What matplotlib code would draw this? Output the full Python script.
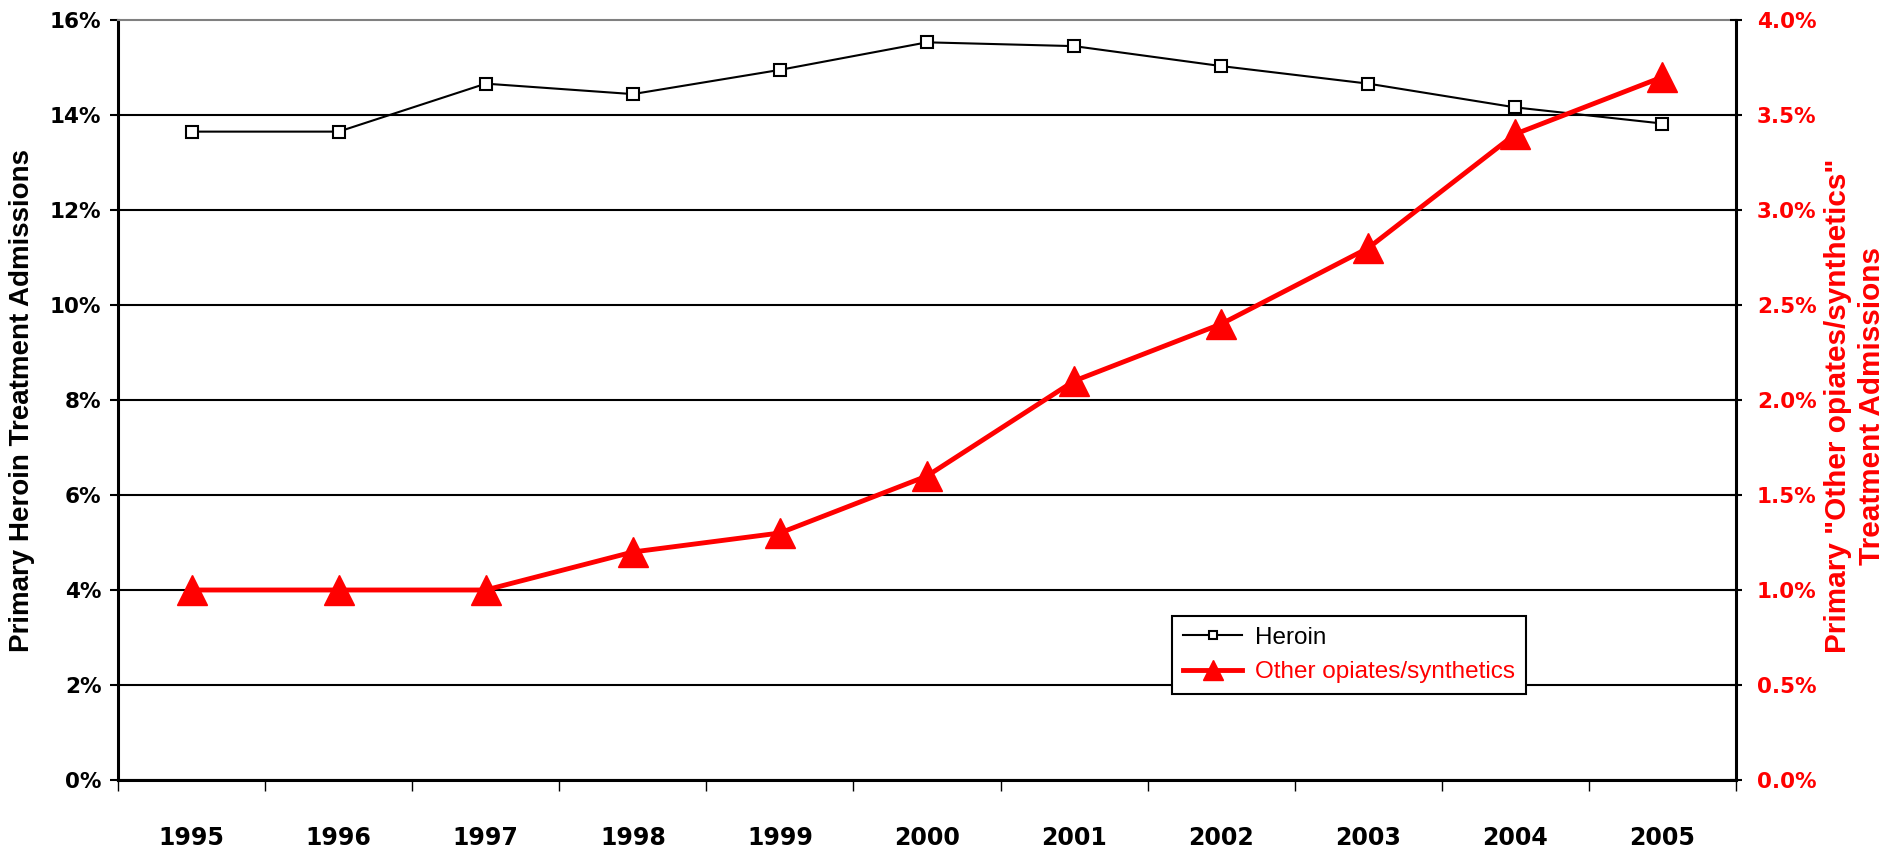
import numpy as np
import matplotlib
matplotlib.use('Agg')
import matplotlib.pyplot as plt
from matplotlib.ticker import FuncFormatter

## Data ####################################################################

years = ['1995', '1996', '1997', '1998', '1999', '2000',
         '2001', '2002', '2003', '2004', '2005']
heroin = [13.65, 13.65, 14.66, 14.44, 14.95, 15.53,
          15.45, 15.03, 14.66, 14.16, 13.82]
other_opiates = [1.0, 1.0, 1.0, 1.2, 1.3, 1.6,
                 2.1, 2.4, 2.8, 3.4, 3.7]

label_font = ['Liberation Sans Narrow', 'Liberation Sans', 'DejaVu Sans']

## Figure ##################################################################

W, H = 1902, 848
fig = plt.figure(figsize=(W / 100, H / 100), dpi=100)
ax = fig.add_axes([118 / W, 1 - 780 / H, (1736 - 118) / W, (780 - 20) / H])
ax2 = ax.twinx()

x = np.arange(len(years))

# gridlines every 2 %, the top one is left to the grey frame
ax.set_ylim(0, 16)
ax.set_yticks(np.arange(0, 17, 2))
ax.grid(axis='y', color='black', linewidth=1.5, zorder=0)
ax.get_ygridlines()[-1].set_visible(False)
ax.set_axisbelow(True)

ax.plot(x, heroin, color='black', linewidth=1.5, marker='s', markersize=8,
        markerfacecolor='white', markeredgecolor='black', markeredgewidth=1.5,
        label='Heroin', zorder=3)
ax2.plot(x, other_opiates, color='red', linewidth=3.5, marker='^',
         markersize=21, label='Other opiates/synthetics', zorder=4)

ax2.set_ylim(0, 4)
ax2.set_yticks(np.arange(0, 4.01, 0.5))

ax.set_xlim(-0.5, 10.5)
ax.set_xticks(x)
ax.set_xticklabels(years)
ax.set_xticks(np.arange(-0.5, 11, 1), minor=True)

ax.yaxis.set_major_formatter(FuncFormatter(lambda v, p: '%d%%' % v))
ax2.yaxis.set_major_formatter(FuncFormatter(lambda v, p: '%.1f%%' % v))

# spines
ax.spines['top'].set_color('#808080')
ax.spines['top'].set_linewidth(1.5)
ax.spines['right'].set_visible(False)
ax.spines['left'].set_linewidth(2.2)
ax.spines['bottom'].set_linewidth(2.2)
for s in ['top', 'left', 'bottom']:
    ax2.spines[s].set_visible(False)
ax2.spines['right'].set_linewidth(2.2)

# ticks
ax.tick_params(axis='x', which='major', length=0, pad=33)
ax.tick_params(axis='x', which='minor', length=8, width=1, direction='out')
ax.tick_params(axis='y', length=6, width=1.5, direction='out', pad=6)
ax2.tick_params(axis='y', length=8, width=1.5, direction='inout', pad=11,
                colors='red')
ax2.tick_params(axis='y', color='black')

for t in ax.get_xticklabels():
    t.set_fontsize(17)
    t.set_fontweight('bold')
for t in ax.get_yticklabels():
    t.set_fontsize(15.5)
    t.set_fontweight('bold')
for t in ax2.get_yticklabels():
    t.set_fontsize(15.5)
    t.set_fontweight('bold')
    t.set_color('red')

# axis titles
fig.text(22 / W, 1 - 400 / H, 'Primary Heroin Treatment Admissions',
         rotation=90, ha='center', va='center', fontsize=20,
         fontweight='bold', family=label_font)
fig.text(1855 / W, 1 - 406 / H,
         'Primary "Other opiates/synthetics"\nTreatment Admissions',
         rotation=90, ha='center', va='center', multialignment='center',
         fontsize=21.4, fontweight='bold', color='red', linespacing=1.3,
         family=label_font)

# legend
h1, l1 = ax.get_legend_handles_labels()
h2, l2 = ax2.get_legend_handles_labels()
leg = ax2.legend(h1 + h2, l1 + l2, loc='upper left',
                 bbox_to_anchor=(1172 / W, 1 - 616 / H),
                 bbox_transform=fig.transFigure,
                 prop={'family': 'Liberation Sans', 'size': 17.5},
                 frameon=True, fancybox=False, framealpha=1,
                 edgecolor='black', handlelength=2.45, handletextpad=0.5,
                 labelspacing=0.5, borderpad=0.45, borderaxespad=0)
leg.get_frame().set_linewidth(1.5)
leg.get_texts()[1].set_color('red')
leg.legend_handles[0].set_markersize(6)
leg.legend_handles[1].set_markersize(14)

fig.savefig('out.png', dpi=100)
